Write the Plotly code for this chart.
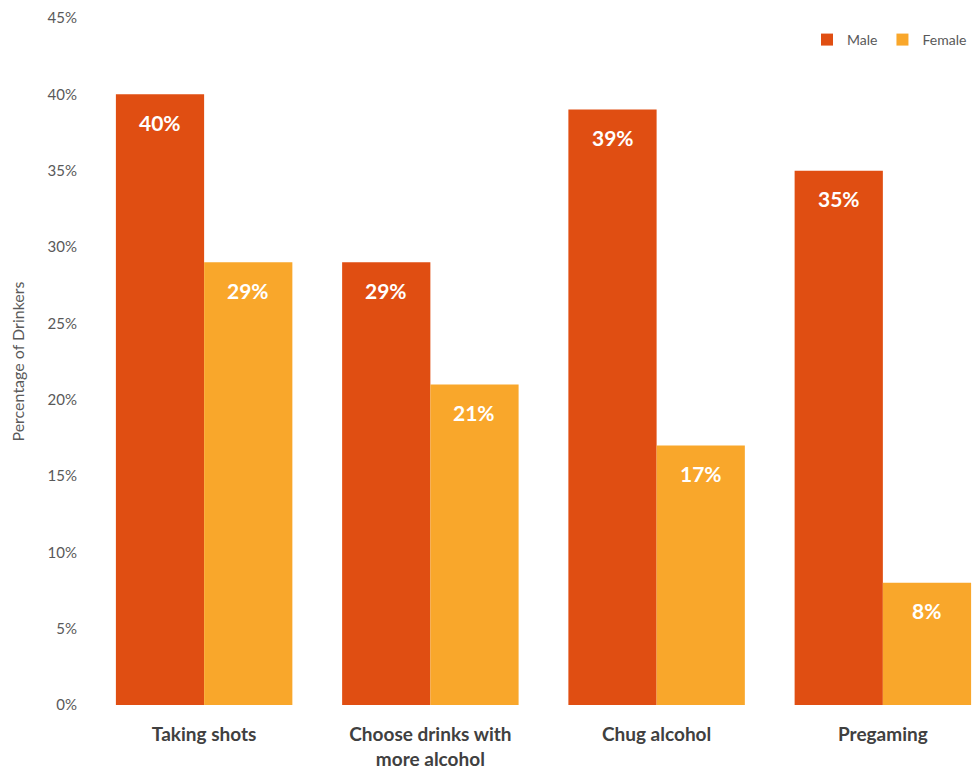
import plotly.graph_objects as go

categories = ["Taking shots", "Choose drinks with<br>more alcohol", "Chug alcohol", "Pregaming"]
male = [40, 29, 39, 35]
female = [29, 21, 17, 8]
y_ticks = [0, 5, 10, 15, 20, 25, 30, 35, 40, 45]
y_tick_labels = [f"{v}%" for v in y_ticks]

MALE_C = "#E04E12"
FEMALE_C = "#F9A72B"
BARGAP = 0.22

fig = go.Figure()
fig.add_trace(go.Bar(name="Male", x=list(range(4)), y=male, marker=dict(color=MALE_C, line=dict(width=0))))
fig.add_trace(go.Bar(name="Female", x=list(range(4)), y=female, marker=dict(color=FEMALE_C, line=dict(width=0))))

half = (1 - BARGAP) / 4
for i in range(4):
    for vals, off in ((male, -half), (female, half)):
        fig.add_annotation(x=i + off, y=vals[i], xref="x", yref="y", text=f"<b>{vals[i]}%</b>",
                           showarrow=False, yshift=-28,
                           font=dict(family="Lato", size=21, color="white"))

fig.update_layout(
    width=964, height=763,
    margin=dict(l=83, r=0, t=10, b=66),
    paper_bgcolor="white", plot_bgcolor="white",
    barmode="group", bargap=BARGAP, bargroupgap=0,
    font=dict(family="Lato", color="#595959"),
    legend=dict(orientation="h", x=1.0, xanchor="right", y=0.968, yanchor="middle",
                font=dict(size=14, color="#595959"), itemwidth=30, traceorder="normal",
                bgcolor="rgba(0,0,0,0)"),
    xaxis=dict(tickmode="array", tickvals=list(range(4)), ticktext=[f"<b>{c}</b>" for c in categories],
               range=[-0.5, 3.394], showgrid=False, zeroline=False, showline=False, ticks="",
               ticklabelstandoff=16, automargin=False,
               tickfont=dict(family="Lato", size=19, color="#404040")),
    yaxis=dict(range=[0, 45], tickmode="array", tickvals=y_ticks, ticktext=y_tick_labels,
               showgrid=False, zeroline=False, showline=False, ticks="",
               ticklabelstandoff=13, automargin=False,
               tickfont=dict(size=15, color="#595959"),
               title=dict(text="Percentage of Drinkers", font=dict(size=16, color="#595959"), standoff=22)),
)

fig.write_html("out.html")
